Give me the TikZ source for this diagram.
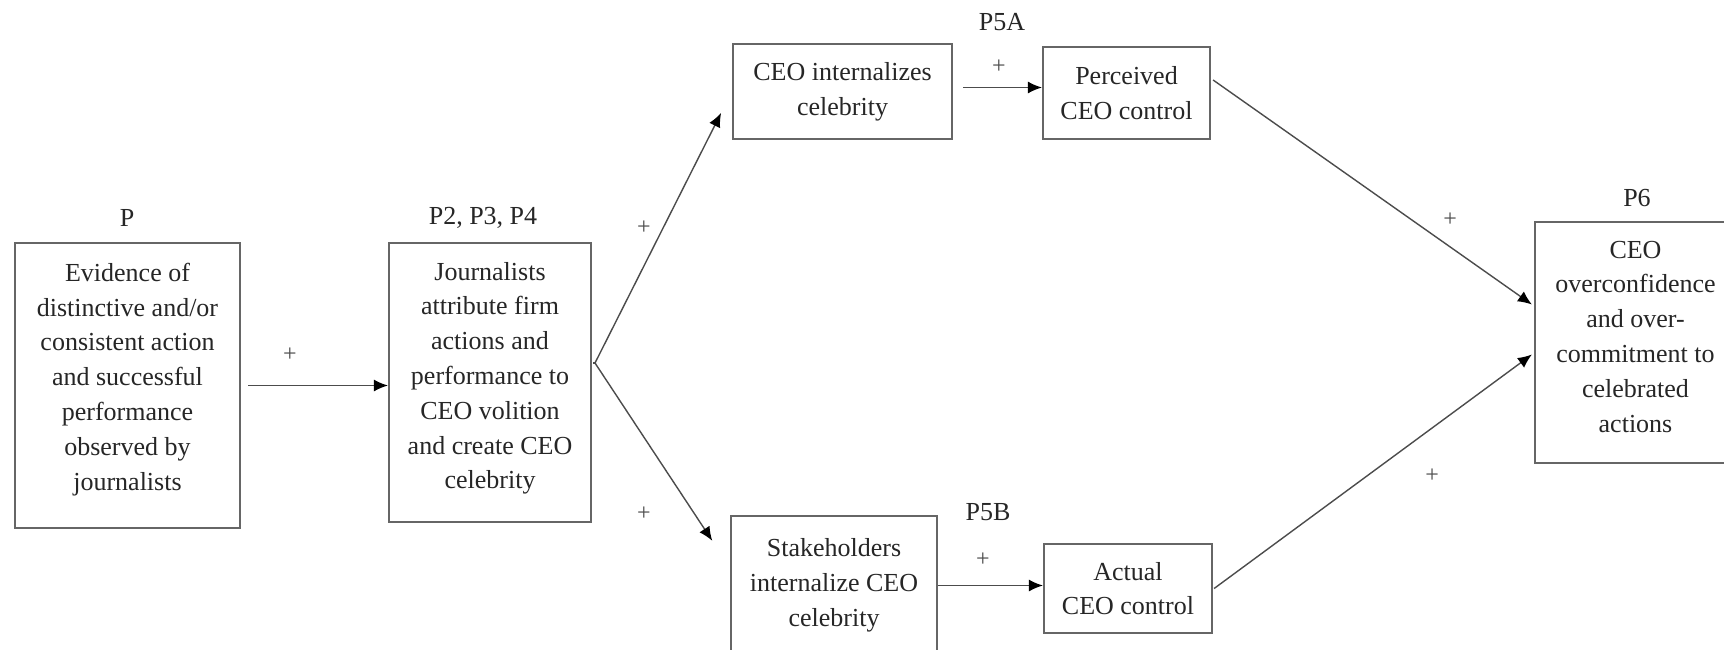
\documentclass[tikz,border=0pt]{standalone}
\usepackage{fontspec}
\setmainfont{Liberation Serif}
\usetikzlibrary{arrows.meta,calc}
\begin{document}
\begin{tikzpicture}[x=0.5pt,y=-0.5pt,
  box/.style={draw=black!60, line width=1.1pt, align=center, inner sep=0pt,
    text=black!85, font=\fontsize{13}{17.4}\selectfont},
  lbl/.style={text=black!85, font=\fontsize{13}{15}\selectfont, inner sep=0pt},
  sign/.style={text=black!70, font=\fontsize{12}{14}\selectfont, inner sep=0pt},
  arr/.style={draw=black!70, line width=0.7pt,
    -{Latex[length=7pt,width=6pt,black]}}]
\clip (0,0) rectangle (1724,649);
\fill[white] (0,0) rectangle (1724,649);

% boxes
\node[box, minimum width=112.5pt, minimum height=142.5pt] (b1) at (127.5,385.5)
  {Evidence of\\distinctive and/or\\consistent action\\and successful\\performance\\observed by\\journalists\rule[-9pt]{0pt}{0pt}};
\node[box, minimum width=101pt, minimum height=139.5pt] (b2) at (490,382.5)
  {Journalists\\attribute firm\\actions and\\performance to\\CEO volition\\and create CEO\\celebrity\rule[-7pt]{0pt}{0pt}};
\node[box, minimum width=109.5pt, minimum height=47.5pt] (b3) at (842.5,91.5)
  {CEO internalizes\\celebrity};
\node[box, minimum width=83.5pt, minimum height=46pt] (b4) at (1126.5,93)
  {Perceived\\CEO control};
\node[box, minimum width=103pt, minimum height=69.5pt] (b5) at (834,585.5)
  {Stakeholders\\internalize CEO\\celebrity};
\node[box, minimum width=84pt, minimum height=44.5pt] (b6) at (1128,588.5)
  {Actual\\CEO control};
\node[box, minimum width=100.5pt, minimum height=120.5pt] (b7) at (1635.5,342.5)
  {CEO\\overconfidence\\and over-\\commitment to\\celebrated\\actions\rule[-6pt]{0pt}{0pt}};

% proposition labels
\node[lbl] (lp)  at (127,218)  {P};
\node[lbl] (lp2) at (483,218)  {P2, P3, P4};
\node[lbl] (lp5a) at (1002,22) {P5A};
\node[lbl] (lp5b) at (988,512) {P5B};
\node[lbl] (lp6) at (1637,198) {P6};

% signs
\node[sign] (s1) at (290,355) {+};
\node[sign] (s2) at (644,228) {+};
\node[sign] (s3) at (644,514) {+};
\node[sign] (s4) at (999,67)  {+};
\node[sign] (s5) at (983,560) {+};
\node[sign] (s6) at (1450,220) {+};
\node[sign] (s7) at (1432,476) {+};

% connectors
\coordinate (fork) at (595,363);
\coordinate (e1) at ($(b1.east)+(7,0)$);
\coordinate (e3) at ($(b3.east)+(10,-4)$);
\draw[arr] (e1) -- (e1 -| b2.west);
\draw[arr, shorten >=12pt] (fork) -- (b3.west);
\draw[arr, shorten >=16pt] (fork) -- ($(b5.west)+(0,-18)$);
\draw[line width=0.7pt, draw=black!70] (fork) -- ++(-2,0);
\draw[arr] (e3) -- (e3 -| b4.west);
\draw[arr] (b5.east) -- (b5.east -| b6.west);
\draw[arr] ($(b4.east)+(2,-13)$) -- ($(b7.west)+(-2,-38)$);
\draw[arr] ($(b6.east)+(1,0)$) -- ($(b7.west)+(-2,12)$);
\end{tikzpicture}
\end{document}
